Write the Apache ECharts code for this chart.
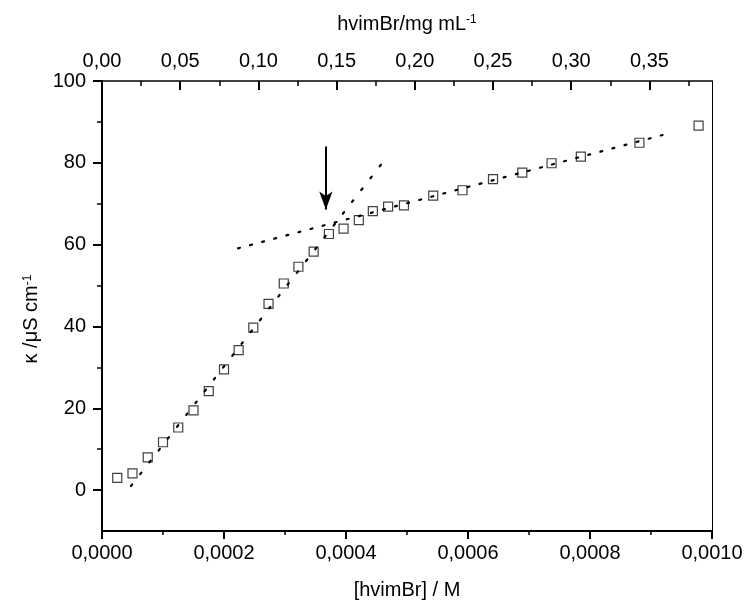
<!DOCTYPE html>
<html>
<head>
<meta charset="utf-8">
<script src="https://cdn.jsdelivr.net/npm/echarts@6/dist/echarts.min.js"></script>
<style>
  html, body { margin: 0; padding: 0; background: #fff; }
  #main { width: 748px; height: 608px; }
</style>
</head>
<body>
<div id="main"></div>
<script>
// measured conductivity vs. concentration
const concM = [0.000025, 0.00005, 0.000075, 0.0001, 0.000125, 0.00015, 0.000175, 0.0002,
  0.000224, 0.000248, 0.000273, 0.000298, 0.000322, 0.000347, 0.000372, 0.000396,
  0.000421, 0.000444, 0.000469, 0.000495, 0.000543, 0.000591, 0.000641, 0.000689,
  0.000737, 0.000785, 0.000881, 0.000978];
const kappa = [3.0, 4.1, 8.0, 11.7, 15.3, 19.5, 24.2, 29.5, 34.2, 39.7, 45.5, 50.5,
  54.6, 58.3, 62.6, 63.9, 66.0, 68.2, 69.3, 69.6, 72.0, 73.3, 76.0, 77.6, 79.9, 81.5,
  84.9, 89.1];

// dotted linear fits (end points)
const steepFitX = [0.0000475, 0.000466];
const steepFitY = [1.0, 81.2];
const shallowFitX = [0.000223, 0.000919];
const shallowFitY = [59.1, 86.8];

// arrow marking the break (cmc)
const arrowX = 0.000367;
const arrowY = [84, 68.6];

// tick values
const leftTicks = [0, 20, 40, 60, 80, 100];
const leftMinor = [10, 30, 50, 70, 90];
const topTicks = [0, 0.05, 0.10, 0.15, 0.20, 0.25, 0.30, 0.35];
const topMinor = [0.025, 0.075, 0.125, 0.175, 0.225, 0.275, 0.325, 0.375];
const topMax = 0.390;

const font = "'Liberation Sans', Arial, sans-serif";

window.onload = function () {
  const myChart = echarts.init(document.getElementById('main'));
  const pair = (xs, ys) => xs.map((x, i) => [x, ys[i]]);
  const txt = { color: '#000', fontFamily: font, fontSize: 20 };
  const sup = { color: '#000', fontFamily: font, fontSize: 12, verticalAlign: 'top' };

  const option = {
    animation: false,
    backgroundColor: '#fff',
    grid: { left: 102, right: 36, top: 81, bottom: 77 },
    xAxis: [
      {
        type: 'value', position: 'bottom', min: 0, max: 0.001, interval: 0.0002,
        name: '[hvimBr] / M', nameLocation: 'middle', nameGap: 49,
        nameTextStyle: txt,
        axisLine: { onZero: false, lineStyle: { color: '#000', width: 2 } },
        axisTick: { length: 8, lineStyle: { color: '#000', width: 2 } },
        minorTick: { show: true, splitNumber: 2, length: 4, lineStyle: { color: '#000', width: 1.5 } },
        axisLabel: Object.assign({ margin: 12, formatter: v => v.toFixed(4).replace('.', ',') }, txt),
        splitLine: { show: false }
      },
      {
        type: 'value', position: 'top', min: 0, max: topMax,
        name: '{t|hvimBr/mg mL}{s|-1}', nameLocation: 'middle', nameGap: 47,
        nameTextStyle: { rich: { t: txt, s: sup } },
        axisLine: { onZero: false, lineStyle: { color: '#000', width: 1.5 } },
        axisTick: { inside: true, length: 9, customValues: topTicks, lineStyle: { color: '#000', width: 2 } },
        axisLabel: Object.assign({ margin: 10, customValues: topTicks, formatter: v => v.toFixed(2).replace('.', ',') }, txt),
        splitLine: { show: false }
      },
      {
        type: 'value', position: 'top', min: 0, max: topMax,
        axisLine: { show: false, onZero: false },
        axisTick: { inside: true, length: 5, customValues: topMinor, lineStyle: { color: '#000', width: 1.5 } },
        axisLabel: { show: false },
        splitLine: { show: false }
      }
    ],
    yAxis: [
      {
        type: 'value', position: 'left', min: -10, max: 100, interval: 10,
        name: '{t|κ /μS cm}{s|-1}', nameLocation: 'middle', nameGap: 58,
        nameTextStyle: { padding: [0, 26, 0, 0], rich: { t: txt, s: sup } },
        axisLine: { onZero: false, lineStyle: { color: '#000', width: 2 } },
        axisTick: { length: 9, customValues: leftTicks, lineStyle: { color: '#000', width: 2 } },
        axisLabel: Object.assign({ margin: 16, customValues: leftTicks }, txt),
        splitLine: { show: false }
      },
      {
        type: 'value', position: 'left', min: -10, max: 100,
        axisLine: { show: false, onZero: false },
        axisTick: { length: 5, customValues: leftMinor, lineStyle: { color: '#000', width: 1.5 } },
        axisLabel: { show: false },
        splitLine: { show: false }
      },
      {
        type: 'value', position: 'right', min: -10, max: 100,
        axisLine: { show: true, onZero: false, lineStyle: { color: '#000', width: 1 } },
        axisTick: { show: false },
        axisLabel: { show: false },
        splitLine: { show: false }
      }
    ],
    series: [
      {
        name: 'steep fit', type: 'line', xAxisIndex: 0, yAxisIndex: 0,
        data: pair(steepFitX, steepFitY), showSymbol: false, silent: true,
        lineStyle: { color: '#000', width: 2.2, type: [2, 13], cap: 'round' }
      },
      {
        name: 'shallow fit', type: 'line', xAxisIndex: 0, yAxisIndex: 0,
        data: pair(shallowFitX, shallowFitY), showSymbol: false, silent: true,
        lineStyle: { color: '#000', width: 2.2, type: [2, 10.5], cap: 'round' }
      },
      {
        name: 'kappa', type: 'scatter', xAxisIndex: 0, yAxisIndex: 0,
        data: pair(concM, kappa),
        symbol: 'rect', symbolSize: 9,
        itemStyle: { color: 'rgba(0,0,0,0)', borderColor: '#111', borderWidth: 1.2 },
        markLine: {
          silent: true, animation: false,
          symbol: ['none', 'arrow'], symbolSize: [10, 18],
          label: { show: false },
          lineStyle: { color: '#000', width: 2, type: 'solid' },
          data: [[{ coord: [arrowX, arrowY[0]] }, { coord: [arrowX, arrowY[1]] }]]
        }
      }
    ]
  };
  myChart.setOption(option, true);
};
</script>
</body>
</html>
